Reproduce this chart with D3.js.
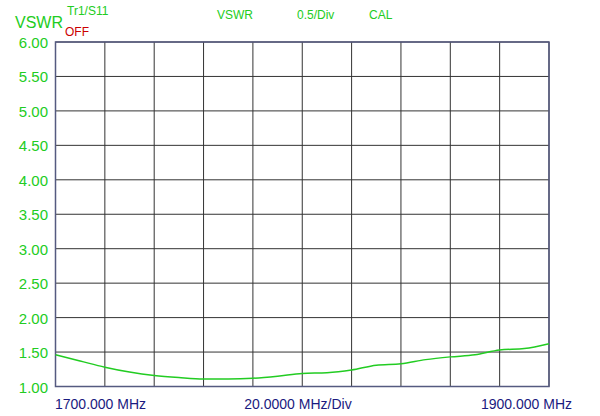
<!DOCTYPE html><html><head><meta charset="utf-8"><script src="https://cdn.jsdelivr.net/npm/d3@7"></script>
<style>body{margin:0;background:#fff}text{font-family:Arial,"Liberation Sans",sans-serif}</style></head><body><svg width="600" height="416"></svg>
<script>
const freqs=[1700,1710,1720,1730,1740,1750,1760,1770,1780,1790,1800,1810,1820,1830,1840,1850,1860,1870,1880,1890,1900];
const vswr=[1.46,1.37,1.28,1.21,1.16,1.13,1.11,1.11,1.12,1.15,1.19,1.20,1.24,1.31,1.33,1.39,1.43,1.46,1.53,1.55,1.62];
const yTicks=[1,1.5,2,2.5,3,3.5,4,4.5,5,5.5,6];
const svg=d3.select("svg");
const L=55.5,R=549,T=42,B=386.5;
const x=d3.scaleLinear().domain([1700,1900]).range([L,R]);
const y=d3.scaleLinear().domain([1,6]).range([B,T]);
const g=svg.append("g");
d3.range(1700,1901,20).forEach(v=>g.append("line").attr("x1",x(v)).attr("x2",x(v)).attr("y1",T).attr("y2",B).attr("stroke","#333").attr("stroke-width",1));
yTicks.forEach(v=>g.append("line").attr("x1",L).attr("x2",R).attr("y1",y(v)).attr("y2",y(v)).attr("stroke","#333").attr("stroke-width",1));
g.append("rect").attr("x",L).attr("y",T).attr("width",R-L).attr("height",B-T).attr("fill","none").attr("stroke","#555a80").attr("stroke-width",1.5);
yTicks.forEach(v=>svg.append("text").attr("x",48).attr("y",y(v)+6).attr("text-anchor","end").attr("font-size",15).attr("fill","#22cc22").text(v.toFixed(2)));
svg.append("path").datum(freqs.map((f,i)=>[f,vswr[i]])).attr("fill","none").attr("stroke","#22cc22").attr("stroke-width",1.5)
 .attr("d",d3.line().x(d=>x(d[0])).y(d=>y(d[1])).curve(d3.curveMonotoneX));
const t=(tx,ty,s,c,sz,a)=>svg.append("text").attr("x",tx).attr("y",ty).attr("font-size",sz).attr("fill",c).attr("text-anchor",a||"start").text(s);
t(15,28,"VSWR","#22cc22",16);
t(67,15,"Tr1/S11","#22cc22",12);
t(65,36,"OFF","#cc0000",12);
t(217,19,"VSWR","#22cc22",12);
t(297,19,"0.5/Div","#22cc22",12);
t(369,19,"CAL","#22cc22",12);
t(55,409,"1700.000 MHz","#1a1a80",14);
t(298,409,"20.0000 MHz/Div","#1a1a80",14,"middle");
t(572,409,"1900.000 MHz","#1a1a80",14,"end");
</script></body></html>
